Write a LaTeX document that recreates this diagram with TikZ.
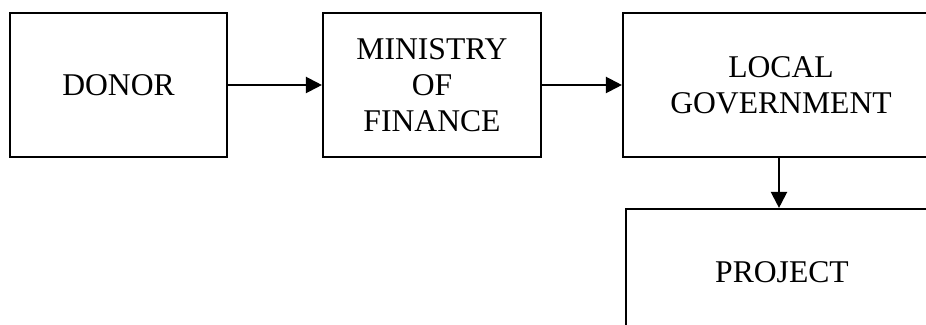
\documentclass[tikz,border=0pt]{standalone}
\usepackage{fontspec}
\setmainfont{Liberation Serif}
\usepackage{tikz}
\usetikzlibrary{arrows.meta,positioning}

\begin{document}
\begin{tikzpicture}[font=\fontsize{18}{20.5}\selectfont, >={Triangle[length=0.32cm, width=0.32cm]},
    box/.style={draw, line width=1.2pt, align=center, inner sep=0pt, minimum height=2.88cm},
    flow/.style={->, line width=1.2pt}]
  \useasboundingbox (0,0) rectangle (18.52,-6.5);
  % boxes of the funding chain
  \node[box, minimum width=4.34cm] (donor) at (2.37,-1.70) {DONOR};
  \node[box, minimum width=4.36cm] (mof) at (8.64,-1.70) {MINISTRY\\OF\\FINANCE};
  \node[box, minimum width=6.32cm] (local) at (15.62,-1.70) {LOCAL\\GOVERNMENT};
  \node[box, minimum width=6.24cm, minimum height=2.52cm] (project) at (15.64,-5.44) {PROJECT};
  % money flow
  \draw[flow] (donor.east) -- (mof.west);
  \draw[flow] (mof.east) -- (local.west);
  \draw[flow] ([xshift=-0.04cm]local.south) -- ([xshift=-0.04cm]local.south |- project.north);
\end{tikzpicture}
\end{document}
